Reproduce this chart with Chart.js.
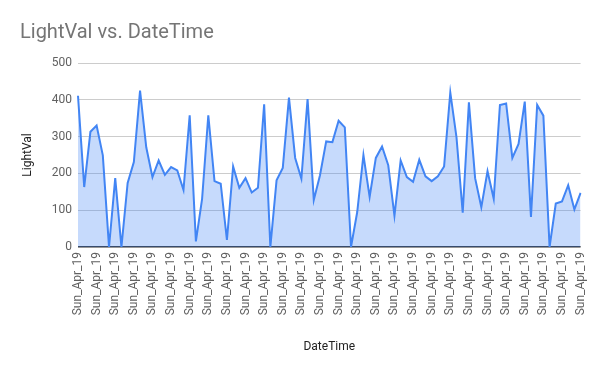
<!DOCTYPE html>
<html>
<head>
<meta charset="utf-8">
<script src="https://cdn.jsdelivr.net/npm/chart.js@4.4.0/dist/chart.umd.min.js"></script>
<style>
html,body{margin:0;padding:0;background:#fff;}
#wrap{width:600px;height:371px;}
</style>
</head>
<body>
<div id="wrap"><canvas id="c" width="600" height="371"></canvas></div>
<script>
const lightVal = [
  411, 163, 313, 330, 249, 0, 187, 0, 174, 231,
  425, 271, 190, 235, 196, 217, 208, 155, 358, 15,
  131, 358, 179, 172, 19, 219, 161, 187, 148, 161,
  388, 0, 181, 215, 406, 242, 186, 402, 128, 195,
  287, 285, 343, 325, 0, 95, 250, 136, 242, 273,
  222, 85, 235, 190, 177, 237, 192, 179, 192, 219,
  420, 298, 93, 393, 187, 108, 206, 131, 386, 390,
  242, 280, 395, 82, 386, 357, 0, 118, 124, 168,
  102, 147
];
const dateTime = lightVal.map(() => 'Sun_Apr_19');
const yTicks = [0, 100, 200, 300, 400, 500];

Chart.defaults.font.family = 'Roboto, "Noto Sans", sans-serif';

new Chart(document.getElementById('c'), {
  type: 'line',
  data: {
    labels: dateTime,
    datasets: [{
      label: 'LightVal',
      data: lightVal,
      borderColor: '#4285f4',
      backgroundColor: 'rgba(66,133,244,0.3)',
      borderWidth: 2,
      fill: 'origin',
      pointRadius: 0,
      tension: 0
    }]
  },
  options: {
    responsive: false,
    animation: false,
    layout: { padding: { left: 20, right: 19, top: 0, bottom: 0 } },
    plugins: {
      legend: { display: false },
      tooltip: { enabled: false },
      title: {
        display: true,
        text: 'LightVal vs. DateTime',
        align: 'start',
        color: '#757575',
        font: { size: 20, weight: 'normal' },
        padding: { top: 21, bottom: 18 }
      }
    },
    scales: {
      x: {
        grid: { display: false, drawTicks: false },
        border: { display: false },
        ticks: {
          autoSkip: false,
          maxRotation: 90,
          minRotation: 90,
          padding: 5,
          color: '#616161',
          font: { size: 12 },
          callback: function(v, i) { return i % 3 === 0 ? this.getLabelForValue(v) : null; }
        },
        title: {
          display: true,
          text: 'DateTime',
          color: '#222',
          font: { size: 12 },
          padding: { top: 4, bottom: 17 }
        },
        afterFit: s => { s.height = 124; }
      },
      y: {
        min: 0,
        max: 500,
        afterBuildTicks: s => { s.ticks = yTicks.map(v => ({ value: v })); },
        grid: {
          drawTicks: false,
          color: ctx => (ctx.tick && ctx.tick.value === 0) ? '#333' : '#cccccc',
          lineWidth: ctx => (ctx.tick && ctx.tick.value === 0) ? 1.5 : 1
        },
        border: { display: false },
        ticks: { padding: 6, color: '#616161', font: { size: 12 } },
        title: {
          display: true,
          text: 'LightVal',
          color: '#222',
          font: { size: 12 },
          padding: { top: 1, bottom: 0 }
        },
        afterFit: s => { s.width = 58; }
      }
    }
  }
});
</script>
</body>
</html>
